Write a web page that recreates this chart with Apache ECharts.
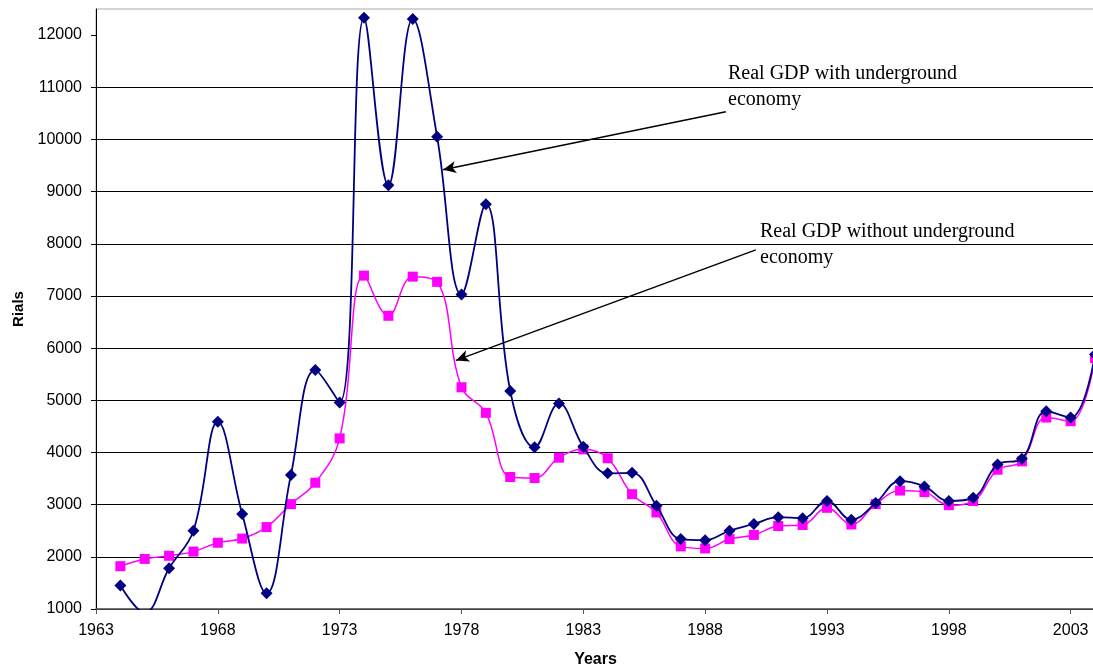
<!DOCTYPE html>
<html>
<head>
<meta charset="utf-8">
<script src="https://cdn.jsdelivr.net/npm/echarts@6/dist/echarts.min.js"></script>
<style>
  html, body { margin: 0; padding: 0; background: #fff; }
  #chart { width: 1093px; height: 671px; }
</style>
</head>
<body>
<div id="chart"></div>
<script>
// years and values
var years = [1964, 1965, 1966, 1967, 1968, 1969, 1970, 1971, 1972, 1973,
             1974, 1975, 1976, 1977, 1978, 1979, 1980, 1981, 1982, 1983,
             1984, 1985, 1986, 1987, 1988, 1989, 1990, 1991, 1992, 1993,
             1994, 1995, 1996, 1997, 1998, 1999, 2000, 2001, 2002, 2003, 2004];

var gdpWithUnderground = [1450, 930, 1780, 2500, 4590, 2820, 1300, 3570, 5580, 4960,
                          12330, 9120, 12310, 10050, 7030, 8760, 5180, 4100, 4940, 4110,
                          3600, 3610, 2980, 2340, 2320, 2500, 2630, 2760, 2740, 3070,
                          2710, 3030, 3450, 3350, 3070, 3130, 3770, 3880, 4790, 4670, 5880];

var gdpWithoutUnderground = [1820, 1960, 2020, 2100, 2270, 2350, 2570, 3010, 3420, 4270,
                             7390, 6620, 7370, 7270, 5250, 4760, 3530, 3510, 3900, 4060,
                             3890, 3200, 2850, 2200, 2160, 2340, 2420, 2590, 2610, 2940,
                             2620, 3010, 3270, 3240, 2990, 3070, 3670, 3830, 4670, 4600, 5810];

var xTickYears = [1963, 1968, 1973, 1978, 1983, 1988, 1993, 1998, 2003];
var yTicks = [1000, 2000, 3000, 4000, 5000, 6000, 7000, 8000, 9000, 10000, 11000, 12000];

function pairs(xs, ys) {
    return xs.map(function (x, i) { return [x, ys[i]]; });
}

var chart = echarts.init(document.getElementById('chart'));

var sans = 'Liberation Sans, Arial, sans-serif';
var noteFont = 'Liberation Serif, Times New Roman, serif';
var plain = function (v) { return String(v); };

var option = {
    animation: false,
    backgroundColor: '#fff',
    grid: {
        left: 96, right: -2, top: 9, bottom: 62,
        outerBoundsMode: 'none',
        show: true, borderColor: '#a8a8a8', borderWidth: 1
    },
    xAxis: {
        type: 'value',
        min: 1963, max: 2004,
        name: 'Years',
        nameLocation: 'middle',
        nameGap: 43,
        nameTextStyle: { fontFamily: sans, fontSize: 16, fontWeight: 'bold', color: '#000' },
        axisLine: { show: true, lineStyle: { color: '#555', width: 1.5 } },
        axisTick: { show: true, length: 5, customValues: xTickYears, lineStyle: { color: '#555' } },
        axisLabel: { customValues: xTickYears, margin: 14, formatter: plain,
                     fontFamily: sans, fontSize: 16, color: '#000' },
        splitLine: { show: false }
    },
    yAxis: {
        type: 'value',
        min: 1000, max: 12500, interval: 1000,
        name: 'Rials',
        nameLocation: 'middle',
        nameGap: 70,
        nameTextStyle: { fontFamily: sans, fontSize: 15, fontWeight: 'bold', color: '#000' },
        axisLine: { show: true, lineStyle: { color: '#000', width: 1 } },
        axisTick: { show: true, length: 5, customValues: yTicks, lineStyle: { color: '#000' } },
        axisLabel: { customValues: yTicks, margin: 14, formatter: plain,
                     fontFamily: sans, fontSize: 16, color: '#000' },
        splitLine: { show: true, showMaxLine: false, lineStyle: { color: '#000', width: 1 } }
    },
    series: [
        {
            name: 'Real GDP with underground economy',
            type: 'line',
            data: pairs(years, gdpWithUnderground),
            smooth: 0.4,
            symbol: 'diamond',
            symbolSize: 12,
            lineStyle: { color: '#000080', width: 1.8 },
            itemStyle: { color: '#000080' },
            z: 3,
            markLine: {
                silent: true,
                symbol: ['none', 'arrow'],
                symbolSize: [9, 13],
                label: { show: false },
                lineStyle: { color: '#000', width: 1.5, type: 'solid' },
                data: [
                    [{ coord: [1988.85, 10530] }, { coord: [1977.24, 9418] }],
                    [{ coord: [1990.08, 7884] }, { coord: [1977.77, 5765] }]
                ]
            }
        },
        {
            name: 'Real GDP without underground economy',
            type: 'line',
            data: pairs(years, gdpWithoutUnderground),
            smooth: 0.4,
            symbol: 'rect',
            symbolSize: 10,
            lineStyle: { color: '#ff00ff', width: 1.5 },
            itemStyle: { color: '#ff00ff' },
            z: 2
        }
    ],
    graphic: [
        {
            type: 'text', left: 728, top: 61,
            style: { text: 'Real GDP with underground\neconomy', font: '20px ' + noteFont, lineHeight: 26, fill: '#000' }
        },
        {
            type: 'text', left: 760, top: 219,
            style: { text: 'Real GDP without underground\neconomy', font: '20px ' + noteFont, lineHeight: 26, fill: '#000' }
        }
    ]
};

chart.setOption(option);
</script>
</body>
</html>
